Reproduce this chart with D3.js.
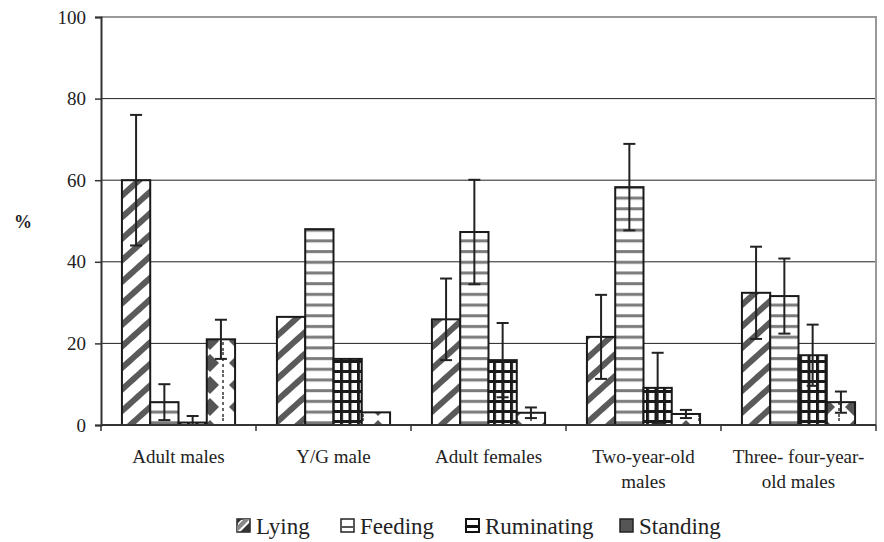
<!DOCTYPE html>
<html lang="en">
  <head>
    <meta charset="utf-8">
    <title>Activity budget</title>
    <style>
      body { margin: 0; background: #fff; }
      svg { display: block; }
      svg text { font-family: "Liberation Serif", "DejaVu Serif", "Times New Roman", serif !important; fill: #222; }
    </style>
    <script src="https://d3js.org/d3.v7.min.js"></script>
  </head>
  <body>
    <div class="chart"></div>
    <script>
    // values (%)
    const groups = ["Adult males", "Y/G male", "Adult females", "Two-year-old males", "Three- four-year-old males"]
    const groupLines = [["Adult males"], ["Y/G male"], ["Adult females"], ["Two-year-old", "males"], ["Three- four-year-", "old males"]]
    const series = ["Lying", "Feeding", "Ruminating", "Standing"]

    const lying = [60, 26.5, 25.9, 21.6, 32.4]
    const feeding = [5.6, 48, 47.3, 58.3, 31.6]
    const ruminating = [0.6, 16.2, 15.9, 9.1, 17.1]
    const standing = [21, 3.1, 3.0, 2.7, 5.6]

    // error bar half-lengths (none shown for Y/G male)
    const errLying = [16, null, 10, 10.3, 11.3]
    const errFeeding = [4.4, null, 12.8, 10.6, 9.2]
    const errRuminating = [1.6, null, 9.1, 8.6, 7.5]
    const errStanding = [4.8, null, 1.3, 1.0, 2.6]

    const yTicks = [0, 20, 40, 60, 80, 100]

    const values = [lying, feeding, ruminating, standing]
    const errs = [errLying, errFeeding, errRuminating, errStanding]

    const data = []
    groups.forEach((g, i) => {
      series.forEach((s, j) => {
        data.push({ group: g, series: s, value: values[j][i], err: errs[j][i] })
      })
    })

    const W = 884, H = 542
    const margin = { top: 17, left: 101, right: 8, bottom: 117 }
    const serif = "'Liberation Serif', 'DejaVu Serif', 'Times New Roman', serif"

    const svg = d3.select(".chart")
      .append("svg")
      .attr("width", W)
      .attr("height", H)
      .attr("font-family", serif)

    // fill patterns
    const defs = svg.append("defs")

    const pLying = defs.append("pattern")
      .attr("id", "p-lying")
      .attr("patternUnits", "userSpaceOnUse")
      .attr("width", 16).attr("height", 16)
      .attr("patternTransform", "rotate(-42)")
    pLying.append("rect").attr("width", 16).attr("height", 16).attr("fill", "#fff")
    pLying.append("rect").attr("y", 0).attr("width", 16).attr("height", 6).attr("fill", "#5a5a5a")

    const pFeed = defs.append("pattern")
      .attr("id", "p-feeding")
      .attr("patternUnits", "userSpaceOnUse")
      .attr("width", 10).attr("height", 10.7)
    pFeed.append("rect").attr("width", 10).attr("height", 10.7).attr("fill", "#fff")
    pFeed.append("rect").attr("y", 4).attr("width", 10).attr("height", 3).attr("fill", "#7a7a7a")

    const pRum = defs.append("pattern")
      .attr("id", "p-ruminating")
      .attr("patternUnits", "userSpaceOnUse")
      .attr("width", 8.5).attr("height", 10)
    pRum.append("rect").attr("width", 8.5).attr("height", 10).attr("fill", "#fff")
    pRum.append("rect").attr("x", 0).attr("width", 3).attr("height", 10).attr("fill", "#1a1a1a")
    pRum.append("rect").attr("y", 0).attr("width", 8.5).attr("height", 3).attr("fill", "#1a1a1a")

    const pStand = defs.append("pattern")
      .attr("id", "p-standing")
      .attr("patternUnits", "userSpaceOnUse")
      .attr("width", 28).attr("height", 22)
      .attr("x", 3)
    pStand.append("rect").attr("width", 28).attr("height", 22).attr("fill", "#fff")
    pStand.append("path").attr("d", "M11,2 L20,11 L11,20 L2,11 Z").attr("fill", "#555")
    pStand.append("line").attr("x1", 24).attr("x2", 24).attr("y1", 0).attr("y2", 22)
      .attr("stroke", "#666").attr("stroke-width", 2).attr("stroke-dasharray", "3,3")

    const fills = { Lying: "url(#p-lying)", Feeding: "url(#p-feeding)", Ruminating: "url(#p-ruminating)", Standing: "url(#p-standing)" }

    const x0 = d3.scaleBand()
      .domain(groups)
      .range([margin.left, W - margin.right])

    const x1 = d3.scaleBand()
      .domain(series)
      .range([0, x0.bandwidth()])
      .paddingOuter(0.74)

    const y = d3.scaleLinear()
      .domain([0, 100])
      .range([H - margin.bottom, margin.top])

    // gridlines
    svg.append("g")
      .selectAll("line")
      .data(yTicks.filter(d => d > 0 && d < 100))
      .join("line")
      .attr("x1", margin.left).attr("x2", W - margin.right)
      .attr("y1", d => y(d)).attr("y2", d => y(d))
      .attr("stroke", "#222").attr("stroke-width", 1)

    // plot frame (top/right)
    svg.append("path")
      .attr("d", `M${margin.left},${y(100)} H${W - margin.right} V${y(0)}`)
      .attr("fill", "none").attr("stroke", "#999").attr("stroke-width", 2)

    // bars
    svg.append("g")
      .selectAll("rect")
      .data(data)
      .join("rect")
      .attr("x", d => x0(d.group) + x1(d.series))
      .attr("y", d => y(d.value))
      .attr("width", x1.bandwidth())
      .attr("height", d => y(0) - y(d.value))
      .attr("fill", d => fills[d.series])
      .attr("stroke", "#1a1a1a")
      .attr("stroke-width", 2)

    // error bars
    const eb = svg.append("g")
      .selectAll("g")
      .data(data.filter(d => d.err != null))
      .join("g")
      .attr("stroke", "#222")
      .attr("stroke-width", 2)
    const cx = d => x0(d.group) + x1(d.series) + x1.bandwidth() / 2
    eb.append("line")
      .attr("x1", cx).attr("x2", cx)
      .attr("y1", d => y(d.value + d.err)).attr("y2", d => y(Math.max(0, d.value - d.err)))
    eb.append("line")
      .attr("x1", d => cx(d) - 6).attr("x2", d => cx(d) + 6)
      .attr("y1", d => y(d.value + d.err)).attr("y2", d => y(d.value + d.err))
    eb.append("line")
      .attr("x1", d => cx(d) - 6).attr("x2", d => cx(d) + 6)
      .attr("y1", d => y(Math.max(0, d.value - d.err))).attr("y2", d => y(Math.max(0, d.value - d.err)))

    // y axis
    const yAxis = svg.append("g")
      .attr("transform", `translate(${margin.left},0)`)
      .call(d3.axisLeft(y).tickValues(yTicks).tickSize(6).tickPadding(9))
      .attr("font-family", serif)
    yAxis.select(".domain").attr("stroke", "#333").attr("stroke-width", 2)
    yAxis.selectAll(".tick line").attr("stroke", "#333").attr("stroke-width", 1.5)
    yAxis.selectAll(".tick text")
      .style("font-family", serif)
      .style("font-size", "19px")
      .attr("fill", "#222")

    svg.append("text")
      .attr("x", 23).attr("y", 228)
      .attr("text-anchor", "middle")
      .style("font-size", "18px")
      .style("font-weight", "bold")
      .text("%")

    // x axis: baseline and boundary ticks
    svg.append("line")
      .attr("x1", margin.left).attr("x2", W - margin.right)
      .attr("y1", y(0)).attr("y2", y(0))
      .attr("stroke", "#333").attr("stroke-width", 2)
    svg.append("g")
      .selectAll("line")
      .data(groups.map(g => x0(g) + x0.bandwidth()).concat([margin.left]))
      .join("line")
      .attr("x1", d => d).attr("x2", d => d)
      .attr("y1", y(0)).attr("y2", y(0) + 6)
      .attr("stroke", "#333").attr("stroke-width", 1.5)

    svg.append("g")
      .selectAll("text")
      .data(groups)
      .join("text")
      .attr("x", d => x0(d) + x0.bandwidth() / 2)
      .attr("y", 463)
      .attr("text-anchor", "middle")
      .style("font-size", "19px")
      .selectAll("tspan")
      .data((d, i) => groupLines[i])
      .join("tspan")
      .attr("x", function () { return d3.select(this.parentNode).attr("x") })
      .attr("dy", (d, i) => i === 0 ? 0 : 25)
      .text(d => d)

    // legend
    const legendX = [237, 341, 466, 620]
    const leg = svg.append("g")
      .selectAll("g")
      .data(series)
      .join("g")
      .attr("transform", (d, i) => `translate(${legendX[i]},519)`)

    leg.each(function (s) {
      const g = d3.select(this)
      if (s === "Lying") {
        g.append("rect").attr("width", 13).attr("height", 13).attr("fill", "#fff").attr("stroke", "#222").attr("stroke-width", 1.5)
        g.append("path").attr("d", "M0,0 H5 L0,5 Z M13,3 V13 H3 Z").attr("fill", "#333")
        g.append("path").attr("d", "M7,0 H13 L0,13 V7 Z").attr("fill", "#888")
      } else if (s === "Feeding") {
        g.append("rect").attr("width", 13).attr("height", 13).attr("fill", "#fff").attr("stroke", "#222").attr("stroke-width", 1.5)
        g.append("rect").attr("x", 0).attr("y", 7).attr("width", 13).attr("height", 2).attr("fill", "#555")
      } else if (s === "Ruminating") {
        g.append("rect").attr("width", 13).attr("height", 13).attr("fill", "#fff").attr("stroke", "#111").attr("stroke-width", 2)
        g.append("rect").attr("x", 0).attr("y", 6).attr("width", 13).attr("height", 3).attr("fill", "#111")
      } else {
        g.append("rect").attr("width", 13).attr("height", 13).attr("fill", "#555").attr("stroke", "#222").attr("stroke-width", 1.5)
      }
      g.append("text")
        .attr("x", 19).attr("y", 15)
        .style("font-size", "23px")
        .text(s)
    })
    </script>
  </body>
</html>
